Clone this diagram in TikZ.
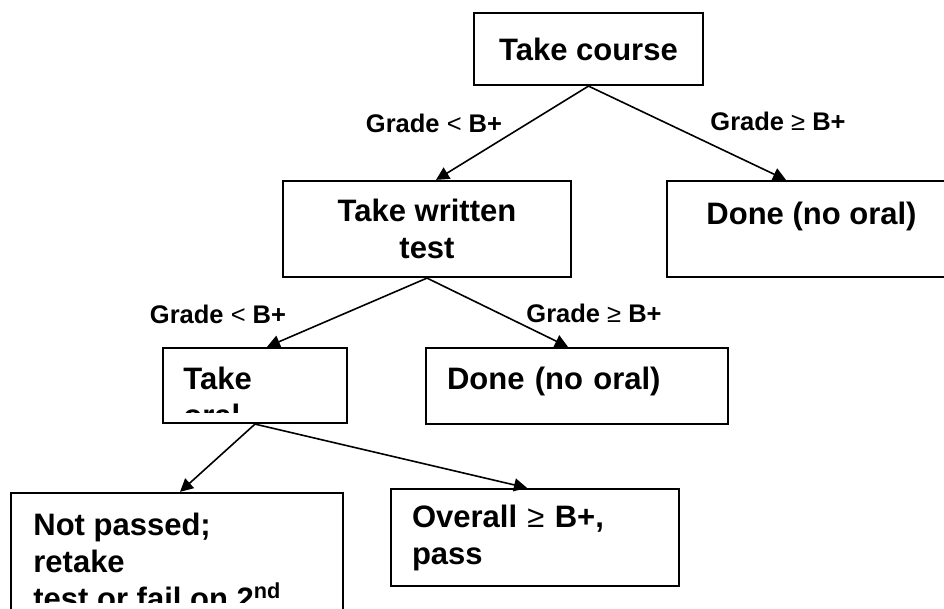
\documentclass[tikz,border=0pt]{standalone}
\usepackage{fontspec}
\setmainfont{Liberation Sans}
\usetikzlibrary{arrows.meta,positioning}

\begin{document}
\begin{tikzpicture}[x=0.5pt, y=-0.5pt,
    box/.style={draw, line width=1.1pt, inner sep=0pt},
    boxtext/.style={font=\fontsize{15.5}{18.5}\selectfont\bfseries},
    cond/.style={font=\fontsize{12.75}{15}\selectfont\bfseries, inner sep=0pt},
    arr/.style={line width=0.8pt, -{Triangle[length=6.5pt, width=6.5pt]}}]
    \useasboundingbox (0,0) rectangle (944,609);

    % First level
    \node[box, boxtext, minimum width=114.5pt, minimum height=36pt] (course) at (588.5,49) {Take course};
    \node[box, boxtext, align=center, minimum width=144pt, minimum height=48pt] (written) at (427,229) {Take written\\test};
    \node[box, boxtext, minimum width=144.5pt, minimum height=48pt, text height=11.3pt, text depth=15.3pt] (doneA) at (811.5,229) {Done (no oral)};

    % Second level
    \node[box, minimum width=92pt, minimum height=37.5pt] (oral) at (255,385.5) {};
    \node[box, boxtext, inner xsep=10.5pt, text width=130pt, align=left, minimum height=38pt, text height=11.3pt, text depth=7.3pt] (doneB) at (577,386) {Done (no oral)};

    % Third level
    \node[box, minimum width=166pt, minimum height=73.5pt] (notpassed) at (177,566.5) {};
    \node[box, boxtext, inner xsep=10.5pt, text width=123pt, align=left, minimum height=48.5pt] (overall) at (535,537.5) {Overall {\mdseries≥} B+,\\pass};

    % Texts cut off by their frames
    \begin{scope}
        \clip (163,348) rectangle (347,413);
        \node[boxtext, anchor=north west, inner sep=0pt, align=left] (oraltext) at (183,366.5) {Take\\oral};
    \end{scope}
    \begin{scope}
        \clip (11,493) rectangle (343,603);
        \node[boxtext, anchor=north west, inner sep=0pt, align=left] (notpassedtext) at (33,512.5) {Not passed;\\retake\\test or fail on 2\textsuperscript{nd}};
    \end{scope}

    % Conditions
    \node[cond] (lowA) at (434,123) {Grade {\mdseries<} B+};
    \node[cond] (highA) at (778,121) {Grade {\mdseries≥} B+};
    \node[cond] (lowB) at (218,314) {Grade {\mdseries<} B+};
    \node[cond] (highB) at (594,313) {Grade {\mdseries≥} B+};

    % Arrows
    \draw[arr] (course.south) -- ([xshift=4.5pt]written.north);
    \draw[arr] (course.south) -- ([xshift=-12.75pt]doneA.north);
    \draw[arr] (written.south) -- ([xshift=6pt]oral.north);
    \draw[arr] (written.south) -- ([xshift=-4.5pt]doneB.north);
    \draw[arr] (oral.south) -- ([xshift=1.5pt]notpassed.north);
    \draw[arr] (oral.south) -- ([xshift=-4pt]overall.north);
\end{tikzpicture}
\end{document}
